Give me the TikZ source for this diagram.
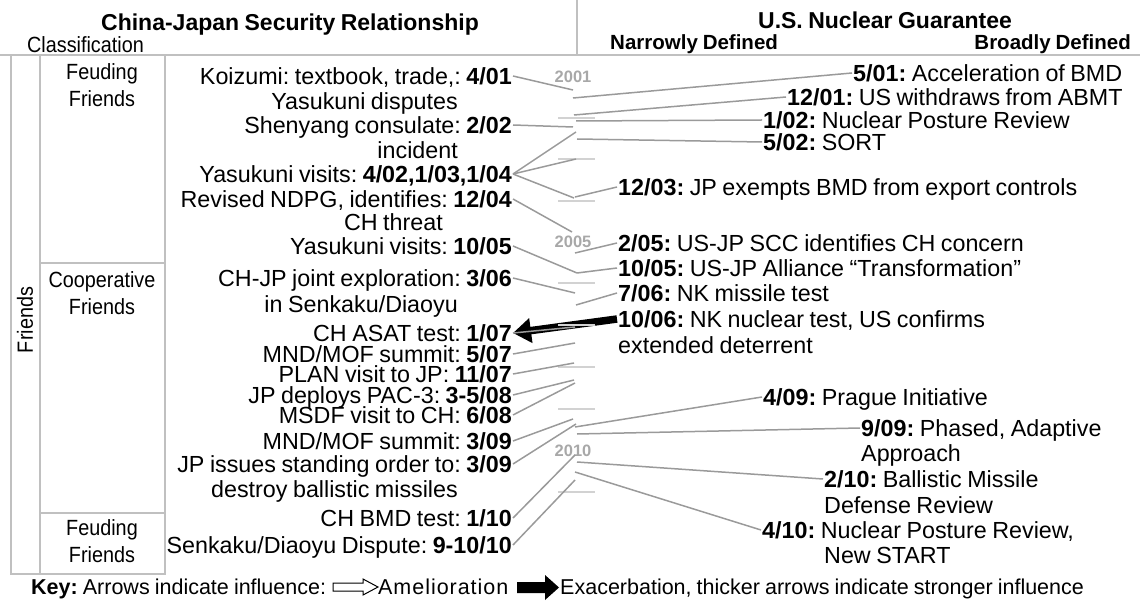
\documentclass[tikz,border=0pt]{standalone}
\usepackage{fontspec}
\setmainfont{Liberation Sans}[WordSpace=0.85]
\newfontfamily\narrowfont{Liberation Sans}[FakeStretch=0.9]
\newfontfamily\spacedfont{Liberation Sans}[LetterSpace=4.5]
\usetikzlibrary{arrows.meta}
\definecolor{conngray}{HTML}{9A9A9A}
\definecolor{tblgray}{HTML}{C0C0C0}
\definecolor{tickgray}{HTML}{D2D2D2}
\definecolor{yrgray}{HTML}{A8A8A8}
\tikzset{
  ev/.style={font=\fontsize{23.3}{24}\selectfont, inner sep=1pt, text height=16.5pt, text depth=0pt},
  lab/.style={ev, anchor=east},
  rlab/.style={ev, anchor=west},
  cell/.style={font=\narrowfont\fontsize{22}{24}\selectfont, inner sep=0pt, text height=15.8pt, text depth=0pt},
  hdr/.style={font=\bfseries\fontsize{23}{24}\selectfont, inner sep=0pt, text height=16.5pt, text depth=0pt},
  subhdr/.style={font=\bfseries\fontsize{20.5}{22}\selectfont, inner sep=0pt, text height=14.7pt, text depth=0pt},
  keytxt/.style={font=\fontsize{21.5}{23}\selectfont, inner sep=0pt, text height=15.5pt, text depth=0pt, anchor=west},
  yrlab/.style={font=\bfseries\fontsize{16.5}{17}\selectfont, text=yrgray, inner sep=0pt, text height=12pt, text depth=0pt},
  connl/.style={draw=conngray, line width=1.5pt},
  tickl/.style={draw=tickgray, line width=1.6pt},
  tline/.style={draw=tblgray, line width=2pt},
}
\begin{document}
\frenchspacing
\begin{tikzpicture}[x=1pt,y=-1pt]
\useasboundingbox (0,0) rectangle (1140,609);

% ---- table / header frame
\draw[tline] (0,55) -- (1140,55);
\draw[tline] (577,0) -- (577,55);
\draw[tline] (11,55) rectangle (165,574);
\draw[tline] (40,55) -- (40,574);
\draw[tline] (40,263) -- (165,263);
\draw[tline] (40,513) -- (165,513);

\node[hdr] (h1) at (290,22) {China-Japan Security Relationship};
\node[cell, anchor=west] (cls) at (27,45) {Classification};
\node[hdr] (h2) at (885,20) {U.S. Nuclear Guarantee};
\node[subhdr, anchor=west] (nd) at (610,42) {Narrowly Defined};
\node[subhdr, anchor=east] (bd) at (1131,42) {Broadly Defined};

\node[cell] (c1a) at (102,72) {Feuding};
\node[cell] (c1b) at (102,99) {Friends};
\node[cell] (c2a) at (102,280) {Cooperative};
\node[cell] (c2b) at (102,307) {Friends};
\node[cell] (c3a) at (102,528) {Feuding};
\node[cell] (c3b) at (102,555) {Friends};
\node[cell, rotate=90] (fr) at (25,320) {Friends};

% ---- timeline ticks and years
\foreach \yy in {118,159,201,283,367,409,492}{
  \draw[tickl] (558,\yy) -- (595,\yy);
}
\node[yrlab] (y2001) at (573,77) {2001};
\node[yrlab] (y2005) at (573,242) {2005};
\node[yrlab] (y2010) at (573,450) {2010};

% ---- timeline points
\coordinate (t401) at (573,90);
\coordinate (t202) at (573,127);
\coordinate (t402) at (576,132);
\coordinate (t103) at (576,159);
\coordinate (t104) at (574,198);
\coordinate (t1204) at (572,232);
\coordinate (t1005) at (577,273);
\coordinate (t306) at (575,293);
\coordinate (t107) at (575,327);
\coordinate (t507) at (575,343);
\coordinate (t1107) at (574,363);
\coordinate (t308) at (574,380);
\coordinate (t608) at (575,383);
\coordinate (t309a) at (573,419);
\coordinate (t309b) at (576,424);
\coordinate (t110) at (575,455);
\coordinate (t910) at (575,480);
\coordinate (r501) at (573,98);
\coordinate (r1201) at (574,115);
\coordinate (r102) at (576,121);
\coordinate (r502) at (577,139);
\coordinate (r1203) at (575,197);
\coordinate (r205) at (575,253);
\coordinate (r706) at (576,305);
\coordinate (r409) at (575,427);
\coordinate (r909) at (577,434);
\coordinate (r210) at (577,462);
\coordinate (r410) at (575,472);

% ---- left events
\node[lab] (e1) at (513,76) {Koizumi: textbook, trade,: \textbf{4/01}};
\node[lab] (e1b) at (459,101) {Yasukuni disputes};
\node[lab] (e2) at (513,125) {Shenyang consulate: \textbf{2/02}};
\node[lab] (e2b) at (459,150) {incident};
\node[lab] (e3) at (513,174) {Yasukuni visits: \textbf{4/02,1/03,1/04}};
\node[lab] (e4) at (513,199) {Revised NDPG, identifies: \textbf{12/04}};
\node[lab] (e4b) at (444,222) {CH threat};
\node[lab] (e5) at (513,246) {Yasukuni visits: \textbf{10/05}};
\node[lab] (e6) at (513,278) {CH-JP joint exploration: \textbf{3/06}};
\node[lab] (e6b) at (459,304) {in Senkaku/Diaoyu};
\node[lab] (e7) at (513,333) {CH ASAT test: \textbf{1/07}};
\node[lab] (e8) at (513,354) {MND/MOF summit: \textbf{5/07}};
\node[lab] (e9) at (513,374) {PLAN visit to JP: \textbf{11/07}};
\node[lab] (e10) at (513,395) {JP deploys PAC-3: \textbf{3-5/08}};
\node[lab] (e11) at (513,415) {MSDF visit to CH: \textbf{6/08}};
\node[lab] (e12) at (513,441) {MND/MOF summit: \textbf{3/09}};
\node[lab] (e13) at (513,464) {JP issues standing order to: \textbf{3/09}};
\node[lab] (e13b) at (459,489) {destroy ballistic missiles};
\node[lab] (e14) at (513,518) {CH BMD test: \textbf{1/10}};
\node[lab] (e15) at (513,545) {Senkaku/Diaoyu Dispute: \textbf{9-10/10}};

% ---- right events
\node[rlab] (r1) at (852,73) {\textbf{5/01:} Acceleration of BMD};
\node[rlab] (r2) at (786,97) {\textbf{12/01:} US withdraws from ABMT};
\node[rlab] (r3) at (762,120) {\textbf{1/02:} Nuclear Posture Review};
\node[rlab] (r4) at (762,142) {\textbf{5/02:} SORT};
\node[rlab] (r5) at (617,187) {\textbf{12/03:} JP exempts BMD from export controls};
\node[rlab] (r6) at (617,243) {\textbf{2/05:} US-JP SCC identifies CH concern};
\node[rlab] (r7) at (617,268) {\textbf{10/05:} US-JP Alliance “Transformation”};
\node[rlab] (r8) at (617,293) {\textbf{7/06:} NK missile test};
\node[rlab] (r9) at (617,319) {\textbf{10/06:} NK nuclear test, US confirms};
\node[rlab] (r9b) at (617,345) {extended deterrent};
\node[rlab] (r10) at (762,397) {\textbf{4/09:} Prague Initiative};
\node[rlab] (r11) at (860,428) {\textbf{9/09:} Phased, Adaptive};
\node[rlab] (r11b) at (860,453) {Approach};
\node[rlab] (r12) at (823,479) {\textbf{2/10:} Ballistic Missile};
\node[rlab] (r12b) at (823,505) {Defense Review};
\node[rlab] (r13) at (761,530) {\textbf{4/10:} Nuclear Posture Review,};
\node[rlab] (r13b) at (823,555) {New START};

% ---- left connectors
\draw[connl] (e1.east) -- (t401);
\draw[connl] (e2.east) -- (t202);
\draw[connl] (e3.east) -- (t402);
\draw[connl] (e3.east) -- (t103);
\draw[connl] (e3.east) -- (t104);
\draw[connl] (e4.east) -- (t1204);
\draw[connl] (e5.east) -- (t1005);
\draw[connl] (e6.east) -- (t306);
\draw[connl] (e8.east) -- (t507);
\draw[connl] (e9.east) -- (t1107);
\draw[connl] (e10.east) -- (t308);
\draw[connl] (e11.east) -- (t608);
\draw[connl] (e12.east) -- (t309a);
\draw[connl] (e13.east) -- (t309b);
\draw[connl] (e14.east) -- (t110);
\draw[connl] (e15.east) -- (t910);

% ---- right connectors
\draw[connl] (r501) -- (r1.west);
\draw[connl] (r1201) -- (r2.west);
\draw[connl] (r102) -- (r3.west);
\draw[connl] (r502) -- (r4.west);
\draw[connl] (r1203) -- (r5.west);
\draw[connl] (r205) -- (r6.west);
\draw[connl] (t1005) -- (r7.west);
\draw[connl] (r706) -- (r8.west);
\draw[connl] (r409) -- (r10.west);
\draw[connl] (r909) -- (r11.west);
\draw[connl] (r210) -- (r12.west);
\draw[connl] (r410) -- (r13.west);

% ---- exacerbation arrow 10/06 -> 1/07
\draw[black, line width=7.5pt, -{Triangle[length=18pt,width=24pt]}] (r9.west) -- (e7.east);
\draw[tickl] (558,325) -- (595,325);
\draw[connl] (e7.east) -- (t107);

% ---- key
\node[keytxt] (k1) at (31,587) {\textbf{Key:} Arrows indicate influence:};
\draw[black, line width=1pt, fill=white] (333,583) -- (363,583) -- (363,579) -- (378,587) -- (363,595) -- (363,591) -- (333,591) -- cycle;
\node[keytxt, font=\spacedfont\fontsize{21.5}{23}\selectfont] (k2) at (378,587) {Amelioration};
\fill[black] (517,582) -- (545,582) -- (545,575) -- (559,587.5) -- (545,600) -- (545,593) -- (517,593) -- cycle;
\node[keytxt] (k3) at (560,587) {Exacerbation, thicker arrows indicate stronger influence};
\end{tikzpicture}
\end{document}
